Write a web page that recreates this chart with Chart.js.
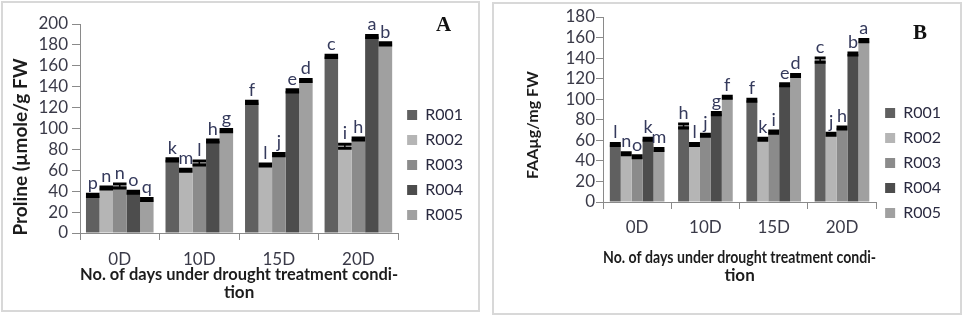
<!DOCTYPE html>
<html>
<head>
<meta charset="utf-8">
<title>Proline and FAA under drought</title>
<script src="https://cdn.jsdelivr.net/npm/chart.js@4"></script>
<style>
  body { margin: 0; background: #fff; width: 964px; height: 317px; position: relative; overflow: hidden; }
  .panel { position: absolute; border: 2px solid #d8d8d8; box-sizing: border-box; }
  #panelA { left: 1px; top: 1px; width: 479px; height: 311px; }
  #panelB { left: 492px; top: 2px; width: 470px; height: 313px; }
  .panel canvas { position: absolute; left: 0; top: 0; }
  .tag { position: absolute; font-family: "Liberation Serif", serif; font-weight: bold; font-size: 21px; color: #111; }
</style>
</head>
<body>
<div class="panel" id="panelA"><canvas id="chartA" width="475" height="307"></canvas></div>
<div class="panel" id="panelB"><canvas id="chartB" width="466" height="309"></canvas></div>
<div class="tag" style="left:436px; top:12px;">A</div>
<div class="tag" style="left:913px; top:20px;">B</div>
<script>
// categories and series names
const days = ['0D', '10D', '15D', '20D'];
const lines = ['R001', 'R002', 'R003', 'R004', 'R005'];

// panel A: proline (µmole/g FW)
const prolineR001 = [36, 70, 125, 169];
const prolineR002 = [43, 60, 65, 83];
const prolineR003 = [45, 67, 75, 90];
const prolineR004 = [39, 88, 136, 188];
const prolineR005 = [32, 98, 146, 181];
const prolineErrR001 = [1, 1, 1, 1];
const prolineErrR002 = [1, 1, 1, 2];
const prolineErrR003 = [2, 2, 1, 1];
const prolineErrR004 = [1, 1, 1, 1];
const prolineErrR005 = [1, 1, 1, 1];
const prolineLetR001 = ['p', 'k', 'f', 'c'];
const prolineLetR002 = ['n', 'm', 'l', 'i'];
const prolineLetR003 = ['n', 'l', 'j', 'h'];
const prolineLetR004 = ['o', 'h', 'e', 'a'];
const prolineLetR005 = ['q', 'g', 'd', 'b'];

// panel B: free amino acids (µg/mg FW)
const faaR001 = [56, 74, 99, 138];
const faaR002 = [47, 56, 61, 66];
const faaR003 = [44, 65, 68, 72];
const faaR004 = [61, 86, 114, 144];
const faaR005 = [51, 102, 123, 157];
const faaErrR001 = [1, 2, 1, 2];
const faaErrR002 = [1, 1, 1, 1];
const faaErrR003 = [1, 1, 1, 1];
const faaErrR004 = [1, 1, 1, 1];
const faaErrR005 = [1, 1, 1, 1];
const faaLetR001 = ['l', 'h', 'f', 'c'];
const faaLetR002 = ['n', 'l', 'k', 'j'];
const faaLetR003 = ['o', 'j', 'i', 'h'];
const faaLetR004 = ['k', 'g', 'e', 'b'];
const faaLetR005 = ['m', 'f', 'd', 'a'];

const barColors = ['#606060', '#b5b5b5', '#8b8b8b', '#4d4d4d', '#a0a0a0'];
const tickColor = '#3a3a48';
const axisColor = '#8a8a8a';

// black error caps plus the significance letters above each bar
const barMarks = {
  id: 'barMarks',
  afterDatasetsDraw(chart) {
    const ctx = chart.ctx;
    const yScale = chart.scales.y;
    chart.data.datasets.forEach((ds, i) => {
      const meta = chart.getDatasetMeta(i);
      meta.data.forEach((bar, j) => {
        const v = ds.data[j], e = ds.errors[j];
        const half = bar.width / 2;
        const top = yScale.getPixelForValue(v + e);
        const bot = yScale.getPixelForValue(v - e);
        ctx.save();
        ctx.strokeStyle = '#000';
        ctx.lineWidth = 3;
        ctx.beginPath();
        ctx.moveTo(bar.x - half, top); ctx.lineTo(bar.x + half, top);
        ctx.moveTo(bar.x - half, bot); ctx.lineTo(bar.x + half, bot);
        ctx.stroke();
        ctx.lineWidth = 1.5;
        ctx.beginPath();
        ctx.moveTo(bar.x, top); ctx.lineTo(bar.x, bot);
        ctx.stroke();
        ctx.fillStyle = '#353a5c';
        ctx.font = '18px Lato';
        ctx.textAlign = 'center';
        ctx.textBaseline = 'bottom';
        ctx.fillText(ds.letters[j], bar.x, top - 2);
        ctx.restore();
      });
    });
  }
};

function makeDatasets(values, errors, letters) {
  return lines.map((name, i) => ({
    label: name,
    data: values[i],
    errors: errors[i],
    letters: letters[i],
    backgroundColor: barColors[i],
    borderWidth: 0,
    barPercentage: 1.0
  }));
}

function makeChart(id, opts) {
  return new Chart(document.getElementById(id), {
    type: 'bar',
    data: {
      labels: days,
      datasets: makeDatasets(opts.values, opts.errors, opts.letters)
    },
    options: {
      responsive: false,
      animation: false,
      layout: { padding: opts.padding },
      datasets: { bar: { categoryPercentage: opts.catPct } },
      plugins: {
        tooltip: { enabled: false },
        legend: {
          position: 'right',
          labels: {
            boxWidth: 10, boxHeight: 10, padding: 9,
            color: '#2a2a40',
            font: { family: 'Lato', size: 16 }
          }
        }
      },
      scales: {
        x: {
          grid: { display: true, drawOnChartArea: false, offset: true, tickLength: 7, color: axisColor },
          border: { color: axisColor },
          ticks: { color: tickColor, font: { family: 'Lato', size: 17 }, padding: opts.xTickPad },
          title: {
            display: true,
            text: ['No. of days under drought treatment condi-', 'tion'],
            color: '#1c1c1c',
            font: { family: 'Lato', size: 17, weight: 'bold', lineHeight: 1.05 },
            padding: { top: 0, bottom: opts.xTitlePad }
          },
          afterFit(scale) { scale.height = opts.xHeight; }
        },
        y: {
          min: 0, max: opts.max,
          grid: { display: true, drawOnChartArea: false, tickLength: opts.yTickLen, color: axisColor },
          border: { color: axisColor },
          ticks: { stepSize: 20, autoSkip: false, color: tickColor, font: { family: 'Lato', size: 17 }, padding: opts.yTickPad },
          title: {
            display: true,
            // trailing spaces push the printed text a little lower, as in the source figure
            text: opts.yTitle + '        ',
            color: '#1c1c1c',
            font: { family: 'Lato', size: opts.yTitleSize, weight: 'bold' },
            padding: { top: opts.yTitlePad, bottom: 0 }
          },
          afterFit(scale) { scale.width = opts.yWidth; }
        }
      }
    },
    plugins: [barMarks]
  });
}

makeChart('chartA', {
  values: [prolineR001, prolineR002, prolineR003, prolineR004, prolineR005],
  errors: [prolineErrR001, prolineErrR002, prolineErrR003, prolineErrR004, prolineErrR005],
  letters: [prolineLetR001, prolineLetR002, prolineLetR003, prolineLetR004, prolineLetR005],
  max: 200,
  catPct: 0.85,
  padding: { left: 4, right: 5, top: 21, bottom: 4 },
  yWidth: 73, yTickLen: 8, yTickPad: 4,
  yTitle: 'Proline (µmole/g FW', yTitleSize: 19, yTitlePad: 2,
  xHeight: 73, xTickPad: 9, xTitlePad: 5
});

makeChart('chartB', {
  values: [faaR001, faaR002, faaR003, faaR004, faaR005],
  errors: [faaErrR001, faaErrR002, faaErrR003, faaErrR004, faaErrR005],
  letters: [faaLetR001, faaLetR002, faaLetR003, faaLetR004, faaLetR005],
  max: 180,
  catPct: 0.8,
  padding: { left: 4, right: 9, top: 13, bottom: 4 },
  yWidth: 105, yTickLen: 7, yTickPad: 1,
  yTitle: 'FAAµg/mg FW', yTitleSize: 16, yTitlePad: 25,
  xHeight: 107, xTickPad: 8, xTitlePad: 25
});
</script>
</body>
</html>
